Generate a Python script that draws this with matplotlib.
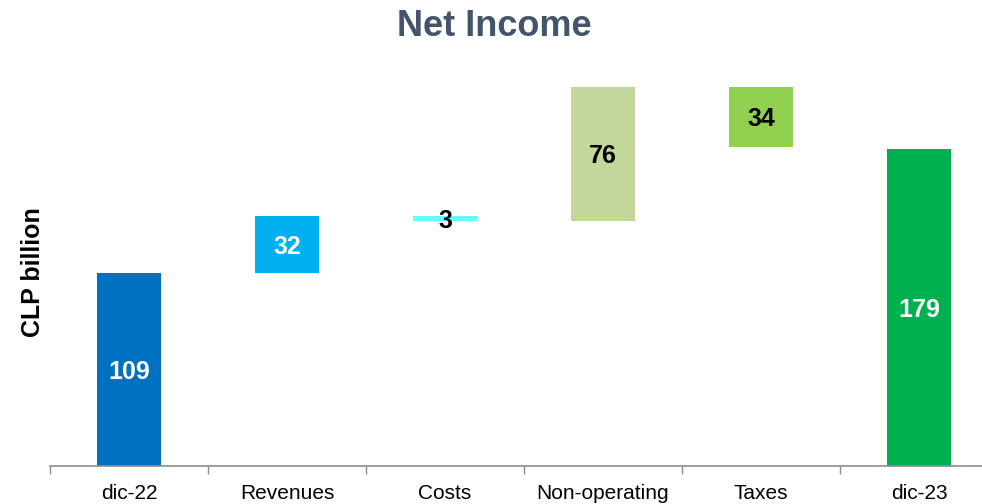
import numpy as np
import matplotlib.pyplot as plt

plt.rcParams['font.family'] = ['Liberation Sans', 'DejaVu Sans']

# Datos del gráfico (CLP billion)
categories = ["dic-22", "Revenues", "Costs", "Non-operating", "Taxes", "dic-23"]
changes = [109, 32, -3, 76, -34, 179]
is_total = [True, False, False, False, False, True]
labels = ["109", "32", "3", "76", "34", "179"]
bar_colors = ["#0070C0", "#00B0F0", "#66FFFF", "#C4D79B", "#92D050", "#00B050"]
label_colors = ["white", "white", "black", "black", "black", "white"]

# calcular bases de la cascada
bottoms, heights = [], []
running = 0
for val, total in zip(changes, is_total):
    if total:
        bottoms.append(0)
        heights.append(val)
        running = val
    else:
        lo = min(running, running + val)
        bottoms.append(lo)
        heights.append(abs(val))
        running += val

W, H = 982, 504
fig = plt.figure(figsize=(W / 100, H / 100), dpi=100)
ax = fig.add_axes([50 / W, (H - 466) / H, 948 / W, 406 / H])

x = np.arange(len(categories))
ax.bar(x, heights, bottom=bottoms, width=0.4, color=bar_colors)

for xi, b, h, lab, col in zip(x, bottoms, heights, labels, label_colors):
    ax.text(xi, b + h / 2, lab, ha="center", va="center_baseline", fontsize=18,
            fontweight="bold", color=col)

ax.set_xlim(-0.5, len(categories) - 0.5)
ax.set_ylim(0, 229)

for s in ["top", "right", "left"]:
    ax.spines[s].set_visible(False)
ax.spines["bottom"].set_color("#8C8C8C")
ax.spines["bottom"].set_linewidth(1.2)

ax.set_yticks([])
ax.set_xticks(x)
ax.set_xticklabels(categories, fontsize=15)
ax.tick_params(axis="x", which="major", length=0, pad=13)
ax.set_xticks(np.arange(-0.5, len(categories), 1), minor=True)
ax.tick_params(axis="x", which="minor", length=6, color="#8C8C8C", width=1)

fig.text(33 / W, (H - 272) / H, "CLP billion", rotation=90, ha="center",
         va="center", fontsize=18, fontweight="bold")
fig.text(494 / W, (H - 26) / H, "Net Income", ha="center", va="center",
         fontsize=26, fontweight="bold", color="#44546A")

fig.savefig("out.png", dpi=100)
